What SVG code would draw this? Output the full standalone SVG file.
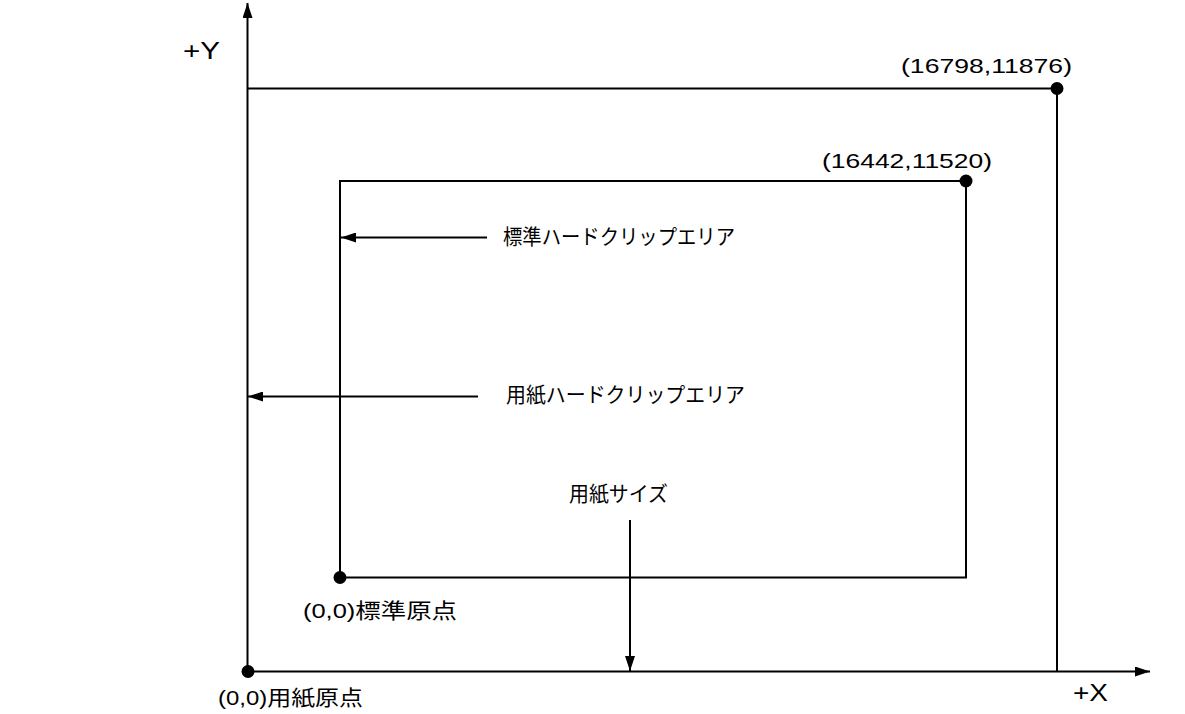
<svg xmlns="http://www.w3.org/2000/svg" width="1185" height="714" viewBox="0 0 1185 714">
<style>
.ln{stroke:#000;stroke-width:2;fill:none}
.t{font-family:"Liberation Sans","Noto Sans CJK JP",sans-serif;font-size:21px;fill:#000}
.ax{font-size:23px}
.dot{fill:#000}
</style>
<defs>
<marker id="ah" viewBox="0 0 15 10" refX="15" refY="5" markerWidth="15" markerHeight="10" markerUnits="userSpaceOnUse" orient="auto">
<path d="M0,0 L15,5 L0,10 Z" fill="#000"/>
</marker>
</defs>
<rect width="1185" height="714" fill="#fff"/>
<g id="connectors">
<line class="ln" x1="247.5" y1="672" x2="247.5" y2="3" marker-end="url(#ah)"/>
<line class="ln" x1="247.5" y1="671.5" x2="1150" y2="671.5" marker-end="url(#ah)"/>
<line class="ln" x1="487" y1="237.5" x2="341" y2="237.5" marker-end="url(#ah)"/>
<line class="ln" x1="478" y1="396.5" x2="248" y2="396.5" marker-end="url(#ah)"/>
<line class="ln" x1="630" y1="520" x2="630" y2="671" marker-end="url(#ah)"/>
</g>
<g id="paper-area">
<polyline class="ln" points="247.5,88.5 1057,88.5 1057,671.5"/>
<circle class="dot" cx="1057" cy="88.5" r="6.5"/>
<text class="t" x="901" y="73" textLength="171" lengthAdjust="spacingAndGlyphs">(16798,11876)</text>
</g>
<g id="standard-area">
<polyline class="ln" points="340,577.5 340,181 966,181 966,577.5 340,577.5"/>
<circle class="dot" cx="966" cy="181" r="6.5"/>
<text class="t" x="822" y="168" textLength="170" lengthAdjust="spacingAndGlyphs">(16442,11520)</text>
</g>
<g id="standard-origin">
<circle class="dot" cx="340" cy="577.5" r="6.5"/>
<text class="t" x="303" y="618" textLength="154" lengthAdjust="spacingAndGlyphs">(0,0)標準原点</text>
</g>
<g id="paper-origin">
<circle class="dot" cx="248" cy="671.5" r="6.5"/>
<text class="t" x="218" y="705" textLength="145" lengthAdjust="spacingAndGlyphs">(0,0)用紙原点</text>
</g>
<g id="label-y"><text class="t ax" x="183" y="59" textLength="37" lengthAdjust="spacingAndGlyphs">+Y</text></g>
<g id="label-x"><text class="t ax" x="1073" y="701" textLength="35" lengthAdjust="spacingAndGlyphs">+X</text></g>
<g id="label-standard-clip"><text class="t" x="503" y="244" textLength="232" lengthAdjust="spacingAndGlyphs">標準ハードクリップエリア</text></g>
<g id="label-paper-clip"><text class="t" x="506" y="402" textLength="239" lengthAdjust="spacingAndGlyphs">用紙ハードクリップエリア</text></g>
<g id="label-paper-size"><text class="t" x="569" y="501" textLength="99" lengthAdjust="spacingAndGlyphs">用紙サイズ</text></g>
</svg>
